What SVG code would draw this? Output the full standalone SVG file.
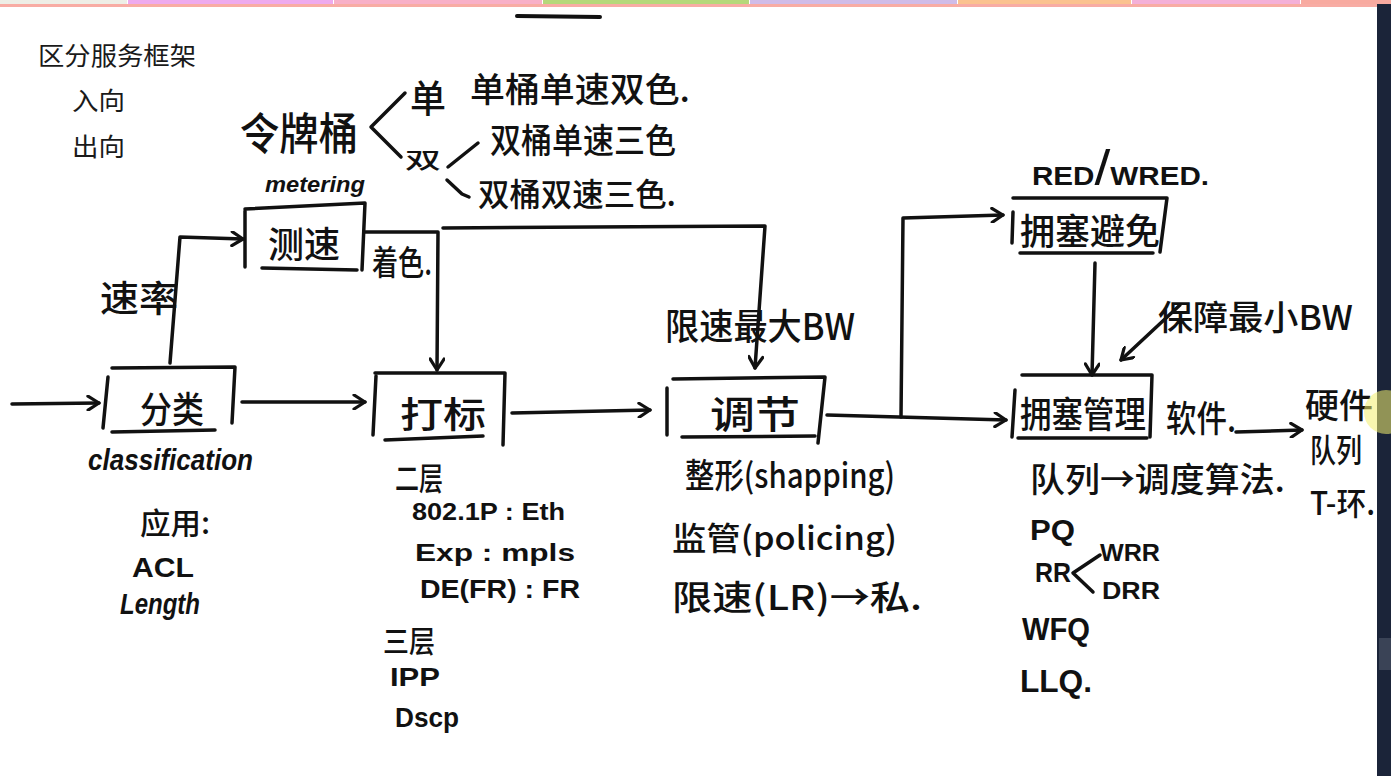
<svg xmlns="http://www.w3.org/2000/svg" width="1391" height="776" viewBox="0 0 1391 776">
<defs>
<style>
.ln{fill:none;stroke:#111;stroke-width:3.5;stroke-linecap:round;stroke-linejoin:round}
.hw{font-family:"Noto Sans CJK SC","Noto Sans",sans-serif;font-weight:500;fill:#111}
.hl{font-family:"Liberation Sans","Noto Sans",sans-serif;font-weight:700;fill:#111}
.hi{font-family:"Liberation Sans","Noto Sans",sans-serif;font-style:italic;font-weight:700;fill:#111}
.ui{font-family:"Noto Sans CJK SC","Noto Sans",sans-serif;font-size:25px;fill:#1a1a1a}
</style>
<marker id="ah" viewBox="0 0 16 16" refX="14" refY="8" markerWidth="16" markerHeight="16" markerUnits="userSpaceOnUse" orient="auto">
<path d="M3,1 L14,8 L3,15" fill="none" stroke="#111" stroke-width="3.2" stroke-linecap="round" stroke-linejoin="round"/>
</marker>
</defs>
<rect width="1391" height="776" fill="#ffffff"/>
<g id="topbar">
<rect x="0" y="0" width="127" height="4" fill="#eeeee6"/>
<rect x="128" y="0" width="205" height="4" fill="#eeaaee"/>
<rect x="334" y="0" width="208" height="4" fill="#f8b0c8"/>
<rect x="543" y="0" width="206" height="4" fill="#b5d87a"/>
<rect x="750" y="0" width="207" height="4" fill="#d0bce8"/>
<rect x="958" y="0" width="173" height="4" fill="#fbc28f"/>
<rect x="1132" y="0" width="168" height="4" fill="#f4b0d8"/>
<rect x="1301" y="0" width="90" height="4" fill="#f8aaa0"/>
<rect x="0" y="4" width="1377" height="3" fill="#f8aca4"/>
<path d="M517,16 L600,17" stroke="#111" stroke-width="4" stroke-linecap="round"/>
</g>
<g id="title">
<text class="ui" x="38" y="65" textLength="158" lengthAdjust="spacingAndGlyphs">区分服务框架</text>
<text class="ui" x="72" y="110" textLength="53" lengthAdjust="spacingAndGlyphs">入向</text>
<text class="ui" x="72" y="156" textLength="53" lengthAdjust="spacingAndGlyphs">出向</text>
</g>
<g id="token-bucket">
<text class="hw" x="240" y="150" font-size="44" textLength="118" lengthAdjust="spacingAndGlyphs">令牌桶</text>
<path class="ln" d="M405,93 L371,127 L401,157"/>
<text class="hw" x="410" y="112" font-size="38" textLength="36" lengthAdjust="spacingAndGlyphs">单</text>
<text class="hw" x="470" y="102" font-size="34" textLength="220" lengthAdjust="spacingAndGlyphs">单桶单速双色.</text>
<text class="hw" x="405" y="168" font-size="22" textLength="36" lengthAdjust="spacingAndGlyphs">双</text>
<path class="ln" d="M448,167 L478,143"/>
<path class="ln" d="M447,180 L462,194 L469,197"/>
<text class="hw" x="490" y="153" font-size="34" textLength="186" lengthAdjust="spacingAndGlyphs">双桶单速三色</text>
<text class="hw" x="478" y="206" font-size="32" textLength="198" lengthAdjust="spacingAndGlyphs">双桶双速三色.</text>
</g>
<g id="n-meter">
<text class="hi" x="265" y="192" font-size="22" textLength="100" lengthAdjust="spacingAndGlyphs">metering</text>
<path class="ln" d="M245,209 L365,203 L362,270"/>
<path class="ln" d="M245,211 L245,267"/>
<path class="ln" d="M262,268 L357,270"/>
<text class="hw" x="268" y="258" font-size="36" textLength="72" lengthAdjust="spacingAndGlyphs">测速</text>
</g>
<g id="n-classify">
<path class="ln" d="M112,368 L235,367 L232,423"/>
<path class="ln" d="M108,377 L103,428"/>
<path class="ln" d="M112,432 L215,430"/>
<text class="hw" x="140" y="423" font-size="36" textLength="64" lengthAdjust="spacingAndGlyphs">分类</text>
<text class="hi" x="88" y="470" font-size="30" textLength="165" lengthAdjust="spacingAndGlyphs">classification</text>
<text class="hw" x="140" y="534" font-size="30" textLength="70" lengthAdjust="spacingAndGlyphs">应用:</text>
<text class="hl" x="132" y="577" font-size="28" textLength="62" lengthAdjust="spacingAndGlyphs">ACL</text>
<text class="hi" x="120" y="614" font-size="30" textLength="80" lengthAdjust="spacingAndGlyphs">Length</text>
</g>
<g id="n-mark">
<path class="ln" d="M375,373 L505,373 L503,445"/>
<path class="ln" d="M376,376 L373,435"/>
<path class="ln" d="M385,440 L483,436"/>
<text class="hw" x="400" y="428" font-size="36" textLength="86" lengthAdjust="spacingAndGlyphs">打标</text>
<text class="hw" x="395" y="490" font-size="32" textLength="48" lengthAdjust="spacingAndGlyphs">二层</text>
<text class="hl" x="412" y="520" font-size="24" textLength="153" lengthAdjust="spacingAndGlyphs">802.1P : Eth</text>
<text class="hl" x="415" y="561" font-size="24" textLength="160" lengthAdjust="spacingAndGlyphs">Exp : mpls</text>
<text class="hl" x="420" y="598" font-size="26" textLength="160" lengthAdjust="spacingAndGlyphs">DE(FR) : FR</text>
<text class="hw" x="383" y="652" font-size="30" textLength="52" lengthAdjust="spacingAndGlyphs">三层</text>
<text class="hl" x="390" y="686" font-size="26" textLength="50" lengthAdjust="spacingAndGlyphs">IPP</text>
<text class="hl" x="395" y="727" font-size="28" textLength="64" lengthAdjust="spacingAndGlyphs">Dscp</text>
</g>
<g id="n-adjust">
<text class="hw" x="665" y="340" font-size="36" textLength="190" lengthAdjust="spacingAndGlyphs">限速最大BW</text>
<path class="ln" d="M673,379 L825,377 L818,443"/>
<path class="ln" d="M667,388 L667,435"/>
<path class="ln" d="M682,437 L815,436"/>
<text class="hw" x="710" y="428" font-size="38" textLength="90" lengthAdjust="spacingAndGlyphs">调节</text>
<text class="hw" x="685" y="488" font-size="34" textLength="210" lengthAdjust="spacingAndGlyphs">整形(shapping)</text>
<text class="hw" x="672" y="550" font-size="32" textLength="225" lengthAdjust="spacingAndGlyphs">监管(policing)</text>
<text class="hw" x="672" y="610" font-size="34" textLength="250" lengthAdjust="spacingAndGlyphs">限速(LR)→私.</text>
</g>
<g id="n-avoid">
<text class="hl" x="1032" y="185" font-size="26" textLength="177" lengthAdjust="spacingAndGlyphs">RED<tspan font-size="50" font-weight="400">/</tspan>WRED.</text>
<path class="ln" d="M1013,198 L1167,198 L1160,252"/>
<path class="ln" d="M1013,212 L1012,243"/>
<path class="ln" d="M1020,253 L1153,253"/>
<text class="hw" x="1020" y="245" font-size="36" textLength="140" lengthAdjust="spacingAndGlyphs">拥塞避免</text>
<text class="hw" x="1158" y="330" font-size="34" textLength="195" lengthAdjust="spacingAndGlyphs">保障最小BW</text>
</g>
<g id="n-manage">
<path class="ln" d="M1022,375 L1152,375 L1150,437"/>
<path class="ln" d="M1015,390 L1012,437"/>
<path class="ln" d="M1018,438 L1147,438"/>
<text class="hw" x="1020" y="428" font-size="36" textLength="126" lengthAdjust="spacingAndGlyphs">拥塞管理</text>
<text class="hw" x="1166" y="432" font-size="36" textLength="70" lengthAdjust="spacingAndGlyphs">软件.</text>
<text class="hw" x="1030" y="492" font-size="34" textLength="255" lengthAdjust="spacingAndGlyphs">队列→调度算法.</text>
<text class="hl" x="1030" y="540" font-size="30" textLength="45" lengthAdjust="spacingAndGlyphs">PQ</text>
<text class="hl" x="1035" y="582" font-size="28" textLength="36" lengthAdjust="spacingAndGlyphs">RR</text>
<path class="ln" d="M1100,555 L1073,573 L1093,592"/>
<text class="hl" x="1100" y="561" font-size="24" textLength="60" lengthAdjust="spacingAndGlyphs">WRR</text>
<text class="hl" x="1102" y="599" font-size="24" textLength="58" lengthAdjust="spacingAndGlyphs">DRR</text>
<text class="hl" x="1022" y="640" font-size="32" textLength="68" lengthAdjust="spacingAndGlyphs">WFQ</text>
<text class="hl" x="1020" y="692" font-size="32" textLength="72" lengthAdjust="spacingAndGlyphs">LLQ.</text>
</g>
<g id="n-hardware">
<text class="hw" x="1305" y="418" font-size="34" textLength="68" lengthAdjust="spacingAndGlyphs">硬件</text>
<text class="hw" x="1310" y="462" font-size="32" textLength="52" lengthAdjust="spacingAndGlyphs">队列</text>
<text class="hw" x="1310" y="515" font-size="32" textLength="65" lengthAdjust="spacingAndGlyphs">T-环.</text>
</g>
<g id="connectors">
<path class="ln" d="M12,404 L99,403" marker-end="url(#ah)"/>
<path class="ln" d="M242,402 L365,402" marker-end="url(#ah)"/>
<path class="ln" d="M512,413 L650,410" marker-end="url(#ah)"/>
<path class="ln" d="M170,363 L180,237 L243,239" marker-end="url(#ah)"/>
<text class="hw" x="100" y="312" font-size="36" textLength="78" lengthAdjust="spacingAndGlyphs">速率</text>
<path class="ln" d="M365,232 L438,232 L437,370" marker-end="url(#ah)"/>
<text class="hw" x="372" y="275" font-size="34" textLength="60" lengthAdjust="spacingAndGlyphs">着色.</text>
<path class="ln" d="M443,228 L765,226 L755,368" marker-end="url(#ah)"/>
<path class="ln" d="M827,415 L1006,420" marker-end="url(#ah)"/>
<path class="ln" d="M901,417 L903,218 L1003,215" marker-end="url(#ah)"/>
<path class="ln" d="M1095,263 L1092,375" marker-end="url(#ah)"/>
<path class="ln" d="M1180,305 L1121,360" marker-end="url(#ah)"/>
<path class="ln" d="M1236,432 L1302,430" marker-end="url(#ah)"/>
</g>
<g id="edge">
<rect x="1377" y="0" width="14" height="776" fill="#1b2439"/>
<rect x="1377" y="0" width="14" height="4" fill="#f8aaa0"/>
<rect x="1379" y="638" width="12" height="32" fill="#3a4356"/>
<circle cx="1386" cy="412" r="22" fill="#f2ee70" opacity="0.55"/>
</g>
</svg>
